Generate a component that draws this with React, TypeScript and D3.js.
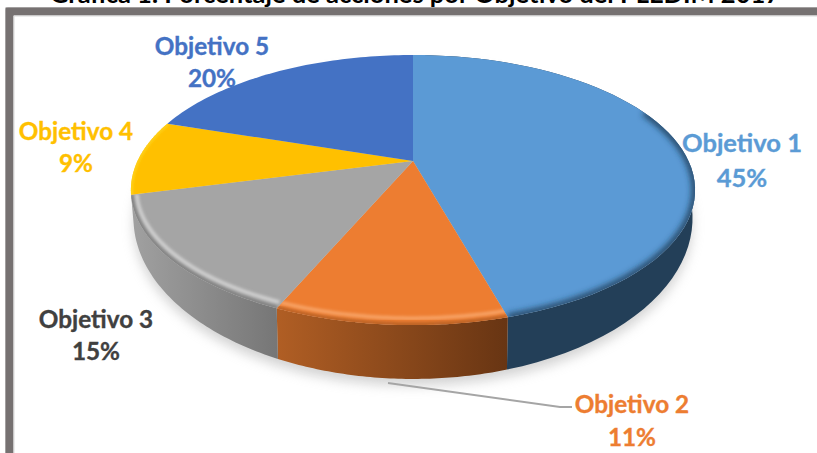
import React from "react";
import * as d3 from "d3";

const categories = ["Objetivo 1", "Objetivo 2", "Objetivo 3", "Objetivo 4", "Objetivo 5"];
const percentLabels = ["45%", "11%", "15%", "9%", "20%"];
const sliceShares = [45.6, 10.9, 14.5, 9, 20];
const faceColors = ["#5b9ad5", "#ed7d31", "#a5a5a5", "#ffc000", "#4472c4"];
const labelColors = ["#5b9bd5", "#ed7d31", "#404040", "#ffc000", "#4472c4"];
const labelSizes = [25.5, 24.3, 24.3, 24.3, 24.3];
const sideLeft = ["#233f58", "#b05e24", "#a0a0a0"];
const sideRight = ["#233f58", "#683513", "#767676"];
const rimColors = ["#1d3a55", "#f8a468", "#d2d2d2", "#ffd21a", "#4472c4"];
const labelCenters: [number, number, number][] = [
  [742, 152, 187],
  [632, 413, 446],
  [96, 328, 360],
  [76, 140, 172],
  [212, 55, 87],
];
const leader: [number, number][] = [[388, 383], [560, 407], [572, 407]];
const titleText = "Gráfica 1. Porcentaje de acciones por Objetivo del PLEDIM 2017";

const W = 817, H = 453, K = 0.215, CX = 413;
const project = (R: number, S: number, cy: number) => (a: number): [number, number] => {
  const u = Math.sin(a), v = -Math.cos(a), w = 1 - K * v;
  return [CX + (R * u) / w, cy + (S * v) / w];
};
const topDisc = project(275.5, 128.8, 161);
const rimDisc = project(270, 123, 161.5);
const baseDisc = project(273, 153.5, 183.4);

const pieAngles = d3.pie<number>().sort(null)(sliceShares);
const line = d3.line();
const sample = (a0: number, a1: number) => d3.range(0, 61).map((i) => a0 + ((a1 - a0) * i) / 60);
const wedge = (a0: number, a1: number) =>
  line([[CX, 161], ...sample(a0, a1).map(topDisc)]) + "Z";
const wall = (a0: number, a1: number) =>
  line([...sample(a0, a1).map(topDisc), ...sample(a0, a1).reverse().map(baseDisc)]) + "Z";
const wholeBase = line(sample(0, Math.PI * 2).map(baseDisc)) + "Z";
const frontSlices = pieAngles.slice(0, sideLeft.length);

export default function App() {
  const font = "Lato, sans-serif";
  return (
    <svg width={W} height={H} viewBox={`0 0 ${W} ${H}`}
      style={{ position: "fixed", left: 0, top: 0, background: "#fff" }}>
      <defs>
        <filter id="soft" x="-10%" y="-10%" width="120%" height="130%"><feGaussianBlur stdDeviation="6" /></filter>
        <filter id="rim" x="-10%" y="-10%" width="120%" height="120%"><feGaussianBlur stdDeviation="1.8" /></filter>
        <filter id="dark" x="-10%" y="-10%" width="120%" height="120%"><feGaussianBlur stdDeviation="3" /></filter>
        {frontSlices.map((p, i) => {
          const pts = sample(p.startAngle, p.endAngle).map(baseDisc);
          const xs = d3.extent(pts, (d) => d[0]) as [number, number];
          return (
            <linearGradient key={i} id={`side${i}`} gradientUnits="userSpaceOnUse" x1={xs[0]} x2={xs[1]} y1={0} y2={0}>
              <stop offset="0" stopColor={sideLeft[i]} />
              <stop offset="1" stopColor={sideRight[i]} />
            </linearGradient>
          );
        })}
        {pieAngles.map((p, i) => (
          <clipPath key={i} id={`clip${i}`}><path d={wedge(p.startAngle, p.endAngle)} /></clipPath>
        ))}
      </defs>

      <text x={415} y={3} textAnchor="middle" fontFamily={font} fontWeight={700} fontSize={25.5} fill="#000">{titleText}</text>
      <path d={`M5.5,${H}V10Q5.5,7.5 8,7.5H${W}`} fill="none" stroke="#cfcfcf" strokeWidth={1} />
      <path d={`M9.5,${H}V11.5H${W}`} fill="none" stroke="#767171" strokeWidth={8} />
      <path d={`M14,${H}V16H${W}`} fill="none" stroke="#d9d9d9" strokeWidth={1} />

      <path d={wholeBase} fill="#a8a8a8" opacity={0.5} filter="url(#soft)" transform="translate(0,7)" />

      {frontSlices.map((p, i) => (
        <path key={i} d={wall(p.startAngle, p.endAngle)} fill={`url(#side${i})`} />
      ))}
      {pieAngles.map((p, i) => (
        <g key={i}>
          <path d={wedge(p.startAngle, p.endAngle)} fill={faceColors[i]} />
          <g clipPath={`url(#clip${i})`}>
            {i === 0 ? (
              <path d={line(sample(p.startAngle + 1.15, p.endAngle).map(topDisc)) as string} fill="none"
                stroke={rimColors[i]} strokeWidth={6} filter="url(#dark)" />
            ) : i === 3 ? (
              <path d={line(sample(p.startAngle, p.endAngle).map(topDisc)) as string} fill="none"
                stroke={rimColors[i]} strokeWidth={4} filter="url(#rim)" />
            ) : i === 4 ? null : (
              <>
                <path d={line(sample(p.startAngle, p.endAngle).map(topDisc)) as string} fill="none"
                  stroke={d3.color(faceColors[i])!.darker(0.6).toString()} strokeWidth={6} filter="url(#rim)" />
                <path d={line(sample(p.startAngle, p.endAngle).map(rimDisc)) as string} fill="none"
                  stroke={rimColors[i]} strokeWidth={3.5} filter="url(#rim)" />
              </>
            )}
          </g>
        </g>
      ))}

      <path d={line(leader) as string} fill="none" stroke="#a5a5a5" strokeWidth={1.8} />

      {categories.map((c, i) => (
        <g key={c} fontFamily={font} fontWeight={700} fontSize={labelSizes[i]} textAnchor="middle"
          fill={labelColors[i]} stroke={labelColors[i]} strokeWidth={0.35}>
          <text x={labelCenters[i][0]} y={labelCenters[i][1]}>{c}</text>
          <text x={labelCenters[i][0]} y={labelCenters[i][2]}>{percentLabels[i]}</text>
        </g>
      ))}
    </svg>
  );
}
